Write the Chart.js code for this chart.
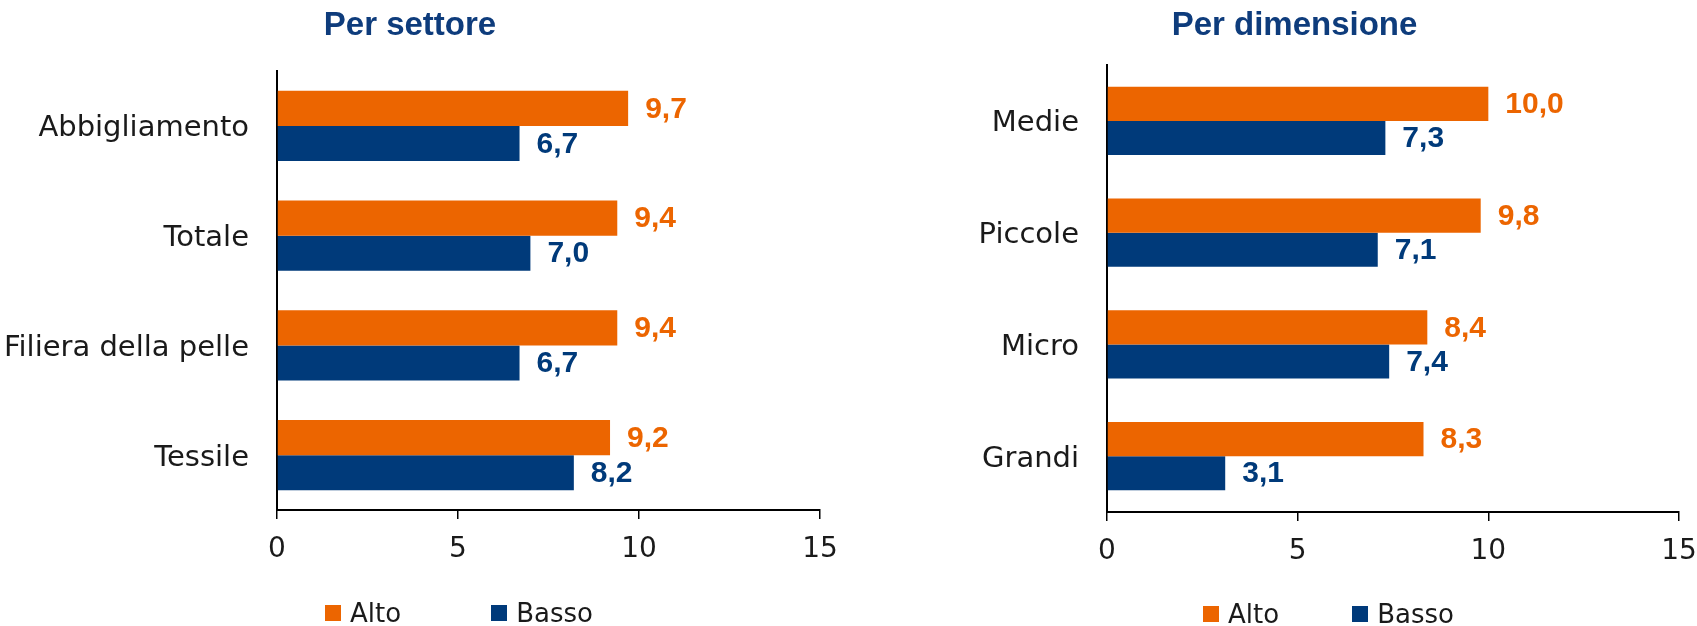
<!DOCTYPE html>
<html>
<head>
<meta charset="utf-8">
<script src="https://cdn.jsdelivr.net/npm/chart.js@4"></script>
<style>
    body { margin: 0; background: #fff; width: 1697px; height: 626px; overflow: hidden; position: relative; }
    .box { position: absolute; top: 0; height: 626px; }
    .legend { position: absolute; display: flex; align-items: center; font-family: "DejaVu Sans", sans-serif; font-size: 26px; line-height: 26px; color: #1a1a1a; }
    .legend .item { display: flex; align-items: center; }
    .legend .sw { width: 16px; height: 16px; margin-right: 9px; }
</style>
</head>
<body>
<div class="box" style="left:0;width:848px"><canvas id="settoreChart"></canvas></div>
<div class="box" style="left:910px;width:787px"><canvas id="dimensioneChart"></canvas></div>

<div class="legend" style="left:325px;top:600px">
    <div class="item"><div class="sw" style="background:#EC6500"></div>Alto</div>
    <div class="item" style="margin-left:90px"><div class="sw" style="background:#003A7A"></div>Basso</div>
</div>
<div class="legend" style="left:1203px;top:601px">
    <div class="item"><div class="sw" style="background:#EC6500"></div>Alto</div>
    <div class="item" style="margin-left:73px"><div class="sw" style="background:#003A7A"></div>Basso</div>
</div>

<script>
// Data
const seriesNames = ['Alto', 'Basso'];
const seriesColors = ['#EC6500', '#003A7A'];

const settoreLabels = ['Abbigliamento', 'Totale', 'Filiera della pelle', 'Tessile'];
const settoreAlto = [9.7, 9.4, 9.4, 9.2];
const settoreBasso = [6.7, 7.0, 6.7, 8.2];

const dimensioneLabels = ['Medie', 'Piccole', 'Micro', 'Grandi'];
const dimensioneAlto = [10.0, 9.8, 8.4, 8.3];
const dimensioneBasso = [7.3, 7.1, 7.4, 3.1];

const xTicks = [0, 5, 10, 15];

// Value labels at bar ends
const valueLabels = {
    id: 'valueLabels',
    afterDatasetsDraw(chart) {
        const ctx = chart.ctx;
        ctx.save();
        ctx.font = 'bold 30px "Liberation Sans", Arial, sans-serif';
        ctx.textAlign = 'left';
        ctx.textBaseline = 'middle';
        chart.data.datasets.forEach((ds, i) => {
            const meta = chart.getDatasetMeta(i);
            ctx.fillStyle = ds.backgroundColor;
            meta.data.forEach((bar, j) => {
                const txt = ds.data[j].toFixed(1).replace('.', ',');
                ctx.fillText(txt, bar.x + 17, bar.y + 1);
            });
        });
        ctx.restore();
    }
};

function makeChart(id, title, labels, alto, basso, cfg) {
    const el = document.getElementById(id);
    return new Chart(el.getContext('2d'), {
        type: 'bar',
        data: {
            labels: labels,
            datasets: [
                { label: seriesNames[0], data: alto, backgroundColor: seriesColors[0] },
                { label: seriesNames[1], data: basso, backgroundColor: seriesColors[1] }
            ]
        },
        options: {
            indexAxis: 'y',
            responsive: true,
            maintainAspectRatio: false,
            animation: false,
            layout: {
                padding: { left: 0, right: cfg.padRight, top: 0, bottom: cfg.padBottom }
            },
            datasets: {
                bar: { categoryPercentage: cfg.catPct, barPercentage: 1 }
            },
            plugins: {
                legend: { display: false },
                tooltip: { enabled: false },
                title: {
                    display: true,
                    text: title,
                    color: '#0E3C7C',
                    font: { family: '"Liberation Sans", Arial, sans-serif', size: 33, weight: 'bold' },
                    padding: { top: 6, bottom: cfg.titleBottom }
                }
            },
            scales: {
                x: {
                    min: 0,
                    max: 15,
                    afterBuildTicks: (scale) => { scale.ticks = xTicks.map(v => ({ value: v })); },
                    afterFit: (scale) => {
                        scale.height = 60;
                        scale.paddingLeft = 0;
                        scale.paddingRight = 0;
                    },
                    grid: {
                        display: true,
                        drawOnChartArea: false,
                        drawTicks: true,
                        tickLength: 9,
                        color: '#000',
                        lineWidth: 1.5
                    },
                    border: { display: true, color: '#000', width: 2 },
                    ticks: {
                        color: '#1a1a1a',
                        padding: 14,
                        font: { family: '"DejaVu Sans", sans-serif', size: 28 }
                    }
                },
                y: {
                    afterFit: (scale) => { scale.width = cfg.yWidth; },
                    grid: { display: false, drawTicks: false },
                    border: { display: true, color: '#000', width: 2 },
                    ticks: {
                        color: '#1a1a1a',
                        padding: 28,
                        labelOffset: 3,
                        font: { family: '"DejaVu Sans", sans-serif', size: 29 }
                    }
                }
            }
        },
        plugins: [valueLabels]
    });
}

document.addEventListener('DOMContentLoaded', () => {
    makeChart('settoreChart', 'Per settore', settoreLabels, settoreAlto, settoreBasso,
        { yWidth: 277, padRight: 28, padBottom: 56, titleBottom: 25.4, catPct: 0.64 });
    makeChart('dimensioneChart', 'Per dimensione', dimensioneLabels, dimensioneAlto, dimensioneBasso,
        { yWidth: 197, padRight: 18, padBottom: 54, titleBottom: 19.4, catPct: 0.61 });
});
</script>
</body>
</html>
